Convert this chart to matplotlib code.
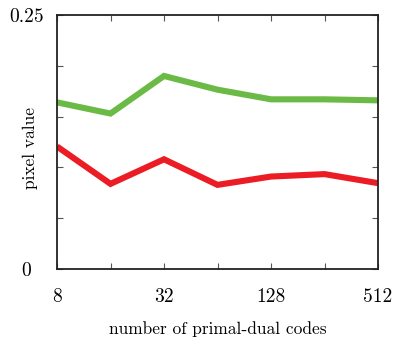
import matplotlib
matplotlib.use('Agg')
import matplotlib.pyplot as plt

# number of codes (log2 axis)
codes = [8, 16, 32, 64, 128, 256, 512]
green_vals = [0.164, 0.153, 0.190, 0.1765, 0.167, 0.167, 0.166]
red_vals = [0.1206, 0.0838, 0.108, 0.0828, 0.091, 0.0934, 0.0845]

xtick_labels = ['8', '', '32', '', '128', '', '512']
ytick_vals = [0, 0.05, 0.1, 0.15, 0.2, 0.25]
ytick_labels = ['0', '', '', '', '', '0.25']

plt.rcParams['font.family'] = 'cmr10'
plt.rcParams['axes.formatter.use_mathtext'] = True

fig = plt.figure(figsize=(4.05, 3.41), dpi=100)
ax = fig.add_axes([57/405, 72/341, 321/405, 254/341])

ax.plot(codes, green_vals, color='#6aba45', lw=4.4, solid_capstyle='butt', solid_joinstyle='miter')
ax.plot(codes, red_vals, color='#ec1c24', lw=4.4, solid_capstyle='butt', solid_joinstyle='miter')

ax.set_xscale('log', base=2)
ax.set_xlim(8, 512)
ax.set_ylim(0, 0.25)
ax.set_xticks(codes)
ax.set_xticklabels(xtick_labels)
ax.minorticks_off()
ax.set_yticks(ytick_vals)
ax.set_yticklabels(ytick_labels)

ax.tick_params(direction='in', length=4, width=0.8, color='#555555',
               top=True, right=True, labelsize=14)
ax.tick_params(axis='x', pad=14)
ax.tick_params(axis='y', pad=22)
for lab in ax.get_yticklabels():
    lab.set_horizontalalignment('center')

for s in ax.spines.values():
    s.set_linewidth(1.3)
    s.set_color('#222222')

ax.set_xlabel('number of primal-dual codes', fontsize=12.5, labelpad=11)
ax.set_ylabel('pixel value', fontsize=12.5)
ax.yaxis.set_label_coords(-0.059, 0.476)

fig.savefig('out.png', dpi=100)
